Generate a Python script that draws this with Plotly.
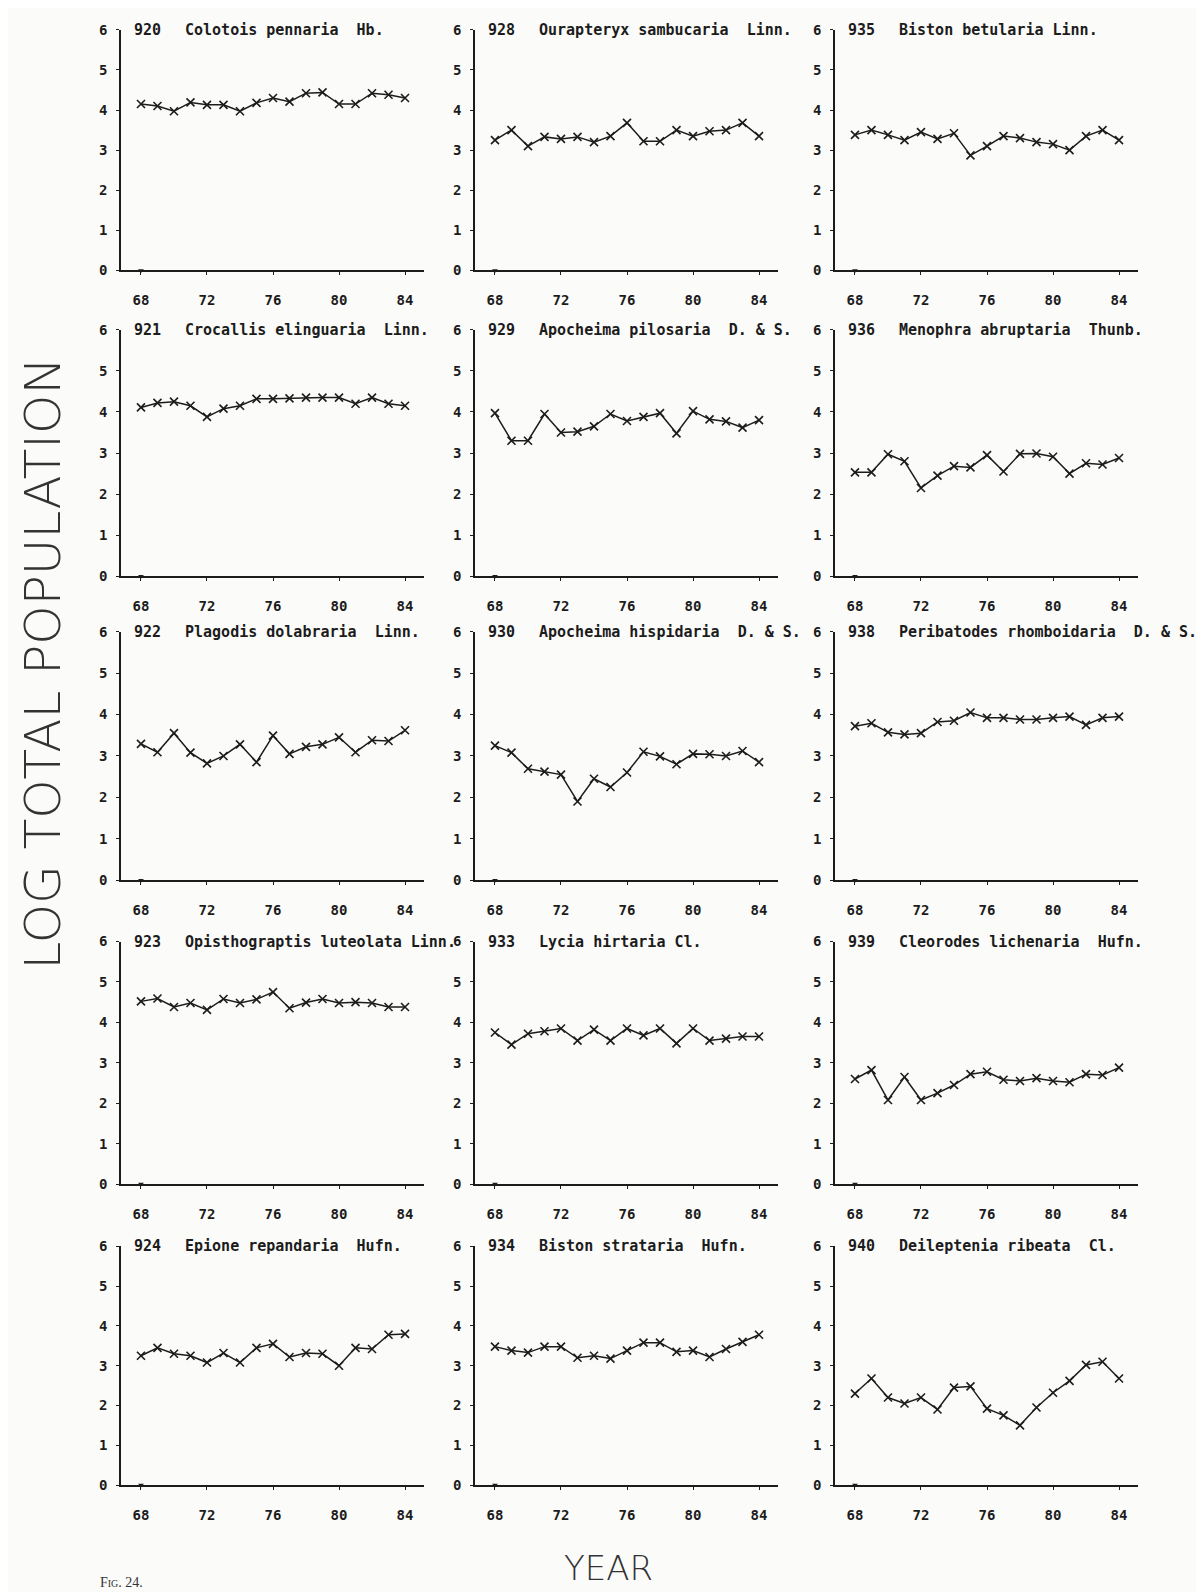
import plotly.graph_objects as go

# ---------------- data ----------------
years = list(range(68, 85))
xtick_vals = [68, 72, 76, 80, 84]
xtick_text = ["68", "72", "76", "80", "84"]
ytick_vals = [0, 1, 2, 3, 4, 5, 6]

codes = ["920", "928", "935",
         "921", "929", "936",
         "922", "930", "938",
         "923", "933", "939",
         "924", "934", "940"]

names = ["Colotois pennaria  Hb.", "Ourapteryx sambucaria  Linn.", "Biston betularia Linn.",
         "Crocallis elinguaria  Linn.", "Apocheima pilosaria  D. & S.", "Menophra abruptaria  Thunb.",
         "Plagodis dolabraria  Linn.", "Apocheima hispidaria  D. & S.", "Peribatodes rhomboidaria  D. & S.",
         "Opisthograptis luteolata Linn.", "Lycia hirtaria Cl.", "Cleorodes lichenaria  Hufn.",
         "Epione repandaria  Hufn.", "Biston strataria  Hufn.", "Deileptenia ribeata  Cl."]

s920 = [4.15, 4.10, 3.97, 4.19, 4.13, 4.13, 3.97, 4.18, 4.30, 4.21, 4.42, 4.44, 4.15, 4.15, 4.42, 4.38, 4.30]
s928 = [3.25, 3.50, 3.10, 3.33, 3.28, 3.33, 3.20, 3.35, 3.68, 3.22, 3.22, 3.50, 3.35, 3.47, 3.50, 3.68, 3.35]
s935 = [3.38, 3.50, 3.38, 3.25, 3.45, 3.28, 3.42, 2.87, 3.10, 3.35, 3.30, 3.20, 3.15, 3.00, 3.35, 3.50, 3.25]

s921 = [4.11, 4.22, 4.25, 4.15, 3.88, 4.08, 4.15, 4.32, 4.32, 4.33, 4.35, 4.35, 4.35, 4.20, 4.35, 4.20, 4.15]
s929 = [3.97, 3.30, 3.30, 3.95, 3.50, 3.52, 3.65, 3.95, 3.78, 3.88, 3.97, 3.48, 4.02, 3.82, 3.77, 3.62, 3.80]
s936 = [2.53, 2.53, 2.97, 2.80, 2.15, 2.45, 2.68, 2.65, 2.95, 2.55, 2.98, 2.99, 2.91, 2.50, 2.75, 2.72, 2.88]

s922 = [3.29, 3.09, 3.55, 3.08, 2.82, 3.00, 3.28, 2.85, 3.49, 3.05, 3.22, 3.28, 3.45, 3.09, 3.38, 3.36, 3.62]
s930 = [3.25, 3.08, 2.69, 2.62, 2.55, 1.90, 2.45, 2.25, 2.60, 3.10, 2.99, 2.80, 3.05, 3.04, 3.00, 3.12, 2.85]
s938 = [3.72, 3.79, 3.57, 3.52, 3.55, 3.82, 3.85, 4.05, 3.92, 3.92, 3.88, 3.88, 3.92, 3.95, 3.75, 3.92, 3.95]

s923 = [4.52, 4.59, 4.38, 4.48, 4.31, 4.58, 4.48, 4.57, 4.75, 4.35, 4.49, 4.58, 4.48, 4.50, 4.48, 4.38, 4.38]
s933 = [3.75, 3.45, 3.72, 3.78, 3.85, 3.55, 3.82, 3.55, 3.85, 3.68, 3.85, 3.48, 3.85, 3.55, 3.60, 3.65, 3.65]
s939 = [2.60, 2.82, 2.08, 2.65, 2.08, 2.25, 2.45, 2.72, 2.78, 2.58, 2.55, 2.62, 2.55, 2.52, 2.72, 2.70, 2.88]

s924 = [3.25, 3.45, 3.30, 3.25, 3.08, 3.32, 3.08, 3.45, 3.55, 3.22, 3.32, 3.30, 3.00, 3.45, 3.42, 3.78, 3.80]
s934 = [3.48, 3.38, 3.33, 3.48, 3.48, 3.20, 3.25, 3.18, 3.38, 3.58, 3.58, 3.35, 3.38, 3.22, 3.42, 3.60, 3.78]
s940 = [2.30, 2.68, 2.20, 2.05, 2.20, 1.90, 2.45, 2.48, 1.92, 1.75, 1.50, 1.95, 2.32, 2.62, 3.02, 3.10, 2.68]

series = [s920, s928, s935,
          s921, s929, s936,
          s922, s930, s938,
          s923, s933, s939,
          s924, s934, s940]

# ---------------- layout geometry (page pixels) ----------------
OFF = 8                      # default body margin of the html page
W, H = 1204 - OFF, 1592 - OFF
col_left = [121, 475, 835]
col_right = [424, 778, 1138]
row_top = [22, 325, 630, 943, 1251]
row_bot = [265, 574, 881, 1188, 1492]


def px(p):
    return (p - OFF) / W


def py(p):
    return 1 - (p - OFF) / H


INK = "#1c1c1c"
TICK_FONT = dict(family="DejaVu Sans Mono, Liberation Mono, monospace",
                 size=14, color=INK, weight="bold")
TITLE_FONT = dict(family="DejaVu Sans Mono, Liberation Mono, monospace",
                  size=15, color=INK, weight="bold")

fig = go.Figure()
layout = {}
annotations = []

for idx in range(15):
    r, c = divmod(idx, 3)
    n = idx + 1
    sfx = "" if n == 1 else str(n)
    xa, ya = "x" + sfx, "y" + sfx

    fig.add_trace(go.Scatter(
        x=years, y=series[idx], mode="lines+markers",
        xaxis=xa, yaxis=ya, showlegend=False, cliponaxis=False,
        line=dict(color=INK, width=1.5),
        marker=dict(symbol="x-thin", size=8, line=dict(color=INK, width=1.6)),
        hoverinfo="x+y"))
    # small mark at the first year on the zero line (present in every panel)
    fig.add_trace(go.Scatter(
        x=[years[0]], y=[0], mode="markers", xaxis=xa, yaxis=ya,
        showlegend=False, cliponaxis=False, hoverinfo="skip",
        marker=dict(symbol="triangle-down", size=5, color=INK)))

    layout["xaxis" + sfx] = dict(
        domain=[px(col_left[c]), px(col_right[c])], range=[66.79, 85.15],
        anchor=ya, showline=True, linecolor=INK, linewidth=1.6,
        ticks="outside", ticklen=3, tickwidth=1.3, tickcolor=INK,
        tickvals=xtick_vals, ticktext=xtick_text, tickfont=TICK_FONT,
        ticklabelstandoff=13, showgrid=False, zeroline=False, fixedrange=True)
    layout["yaxis" + sfx] = dict(
        domain=[py(row_bot[r]), py(row_top[r])], range=[0, 6],
        anchor=xa, showline=True, linecolor=INK, linewidth=1.6,
        ticks="outside", ticklen=3, tickwidth=1.3, tickcolor=INK,
        tickvals=ytick_vals, tickfont=TICK_FONT, ticklabelstandoff=6,
        showgrid=False, zeroline=False, fixedrange=True)

    ytitle = py(row_top[r])
    annotations.append(dict(
        text=codes[idx], xref="paper", yref="paper",
        x=px(col_left[c] + 11), y=ytitle, xanchor="left", yanchor="middle",
        showarrow=False, font=TITLE_FONT))
    annotations.append(dict(
        text=names[idx].replace("  ", "\u00a0\u00a0"), xref="paper", yref="paper",
        x=px(col_left[c] + 62), y=ytitle, xanchor="left", yanchor="middle",
        showarrow=False, font=TITLE_FONT))

annotations.append(dict(
    text="LOG TOTAL POPULATION", xref="paper", yref="paper",
    x=px(43), y=py(662), xanchor="center", yanchor="middle", textangle=-90,
    showarrow=False, font=dict(family="DejaVu Sans, sans-serif", size=50, color="#333333", weight=200)))
annotations.append(dict(
    text="YEAR", xref="paper", yref="paper",
    x=px(608), y=py(1576), xanchor="center", yanchor="middle",
    showarrow=False, font=dict(family="DejaVu Sans, sans-serif", size=34, color="#333333", weight=200)))
annotations.append(dict(
    text="Fig. 24.", xref="paper", yref="paper",
    x=px(98), y=py(1590), xanchor="left", yanchor="middle",
    showarrow=False, font=dict(family="Liberation Serif, serif", size=14, color="#333333", variant="small-caps")))

fig.update_layout(**layout)
fig.update_layout(
    width=W, height=H, margin=dict(l=0, r=0, t=0, b=0),
    paper_bgcolor="#fbfbfa", plot_bgcolor="rgba(0,0,0,0)",
    annotations=annotations, showlegend=False)

fig.write_html("out.html")
